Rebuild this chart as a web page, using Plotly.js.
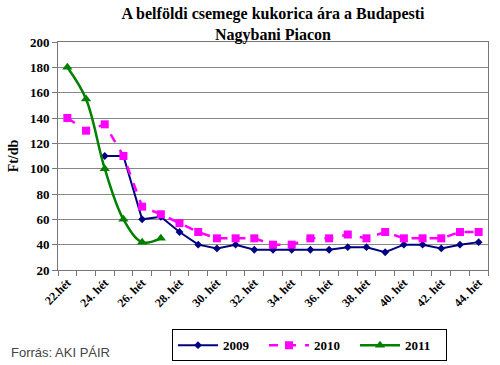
<!DOCTYPE html>
<html>
<head>
<meta charset="utf-8">
<script src="https://cdn.plot.ly/plotly-3.0.1.min.js"></script>
<style>html,body{margin:0;padding:0;background:#fff;}#chart{width:500px;height:365px;}</style>
</head>
<body>
<div id="chart"></div>
<script>
const weeks = [22,23,24,25,26,27,28,29,30,31,32,33,34,35,36,37,38,39,40,41,42,43,44];
const tickWeeks = [22,24,26,28,30,32,34,36,38,40,42,44];
const tickLabels = ["22.hét","24. hét","26. hét","28. hét","30. hét","32. hét","34. hét","36. hét","38. hét","40. hét","42. hét","44. hét"];
const s2009 = [null,null,110,110,60,62,50,40,37,40,36,36,36,36,36,38,38,34,40,40,37,40,42];
const s2010 = [140,130,135,110,70,64,57,50,45,45,45,40,40,45,45,48,45,50,45,45,45,50,50];
const s2011 = [180,155,100,60,42,45,null,null,null,null,null,null,null,null,null,null,null,null,null,null,null,null,null];

const serif = "Liberation Serif";
const traces = [
  {x: weeks, y: s2009, name: "2009", mode: "lines+markers", type: "scatter",
   line: {color: "#000080", width: 2}, marker: {symbol: "diamond", size: 6, color: "#000080"}},
  {x: weeks, y: s2010, name: "2010", mode: "lines+markers", type: "scatter",
   line: {color: "#FF00FF", width: 2.5, dash: "dash"}, marker: {symbol: "square", size: 8, color: "#FF00FF"}},
  {x: weeks, y: s2011, name: "2011", mode: "lines+markers", type: "scatter",
   line: {color: "#008000", width: 2.5, shape: "spline"}, marker: {symbol: "triangle-up", size: 9, color: "#008000"}}
];
const layout = {
  width: 500, height: 365,
  margin: {l: 58, r: 12, t: 42, b: 95, autoexpand: false},
  paper_bgcolor: "#fff", plot_bgcolor: "#fff",
  showlegend: true,
  title: {text: "<b>A belföldi csemege kukorica ára a Budapesti<br>Nagybani Piacon</b>",
    font: {family: serif, size: 16, color: "#000"}, x: 0.546, xanchor: "center", y: 0.948, yanchor: "top"},
  xaxis: {range: [21.5, 44.5], tickvals: tickWeeks, ticktext: tickLabels, tickangle: -45,
    ticks: "", showgrid: false, zeroline: false, showline: true, linecolor: "#777", linewidth: 1, mirror: true,
    tickfont: {family: serif, size: 12, color: "#000", weight: "bold"},
    minor: {ticks: "outside", tick0: 21.5, dtick: 1, ticklen: 5, tickcolor: "#777", showgrid: false}},
  yaxis: {range: [20, 200], dtick: 20, tick0: 20, ticks: "outside", ticklen: 5, tickcolor: "#777",
    showgrid: true, gridcolor: "#888", gridwidth: 1, zeroline: false, showline: true, linecolor: "#777", mirror: true,
    tickfont: {family: serif, size: 13, color: "#000", weight: "bold"},
    title: {text: "<b>Ft/db</b>", font: {family: serif, size: 14, color: "#000"}, standoff: 8}},
  legend: {orientation: "h", xref: "container", yref: "container", x: 0.344, xanchor: "left", y: 0.098, yanchor: "top",
    entrywidth: 36, itemwidth: 40,
    bordercolor: "#000", borderwidth: 1, bgcolor: "#fff",
    font: {family: serif, size: 13, color: "#000", weight: "bold"}},
  annotations: [{text: "Forrás: AKI PÁIR", xref: "paper", yref: "paper", x: -0.115, y: -0.36,
    xanchor: "left", yanchor: "middle", showarrow: false,
    font: {family: "Liberation Sans", size: 13, color: "#444"}}]
};
Plotly.newPlot("chart", traces, layout, {displayModeBar: false, staticPlot: true});
</script>
</body>
</html>
